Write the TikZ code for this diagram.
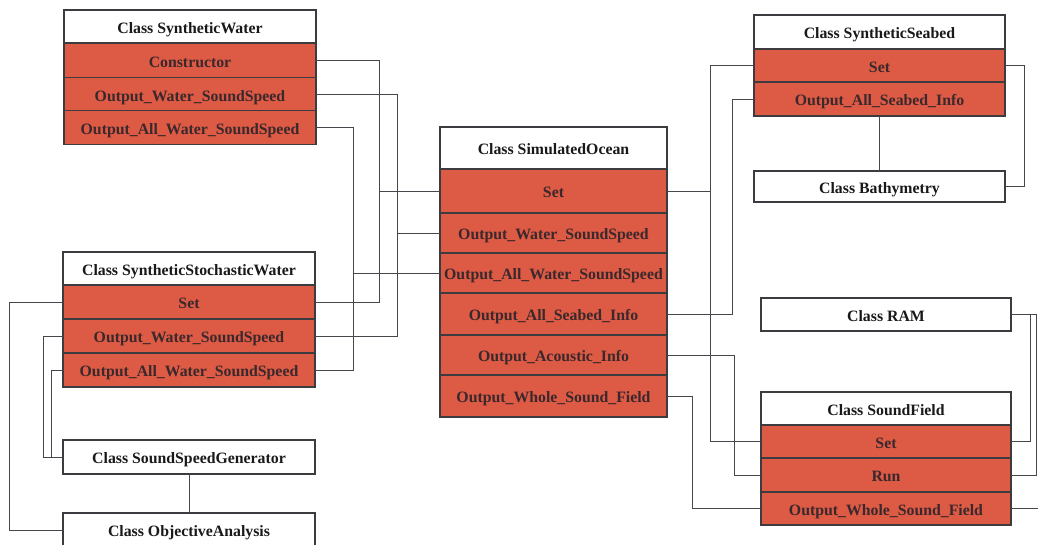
\documentclass[tikz,border=0pt]{standalone}
\usepackage{fontspec}
\setmainfont{Liberation Serif}
\begin{document}
\definecolor{rowred}{RGB}{221,90,68}
\definecolor{edgegray}{RGB}{60,60,64}
\definecolor{wiregray}{RGB}{70,70,76}
\definecolor{rowtext}{RGB}{58,40,44}
\begin{tikzpicture}[x=1pt,y=-1pt,
  classbox/.style={draw=edgegray,line width=1.1pt,fill=white,inner sep=0pt,outer sep=0pt,
    minimum height=#1,font=\bfseries\fontsize{15.8}{18}\selectfont,text=black!90,
    text height=13.5pt,text depth=0pt},
  classbox/.default=33pt,
  methodbox/.style={draw=edgegray,line width=1.1pt,fill=rowred,inner sep=0pt,outer sep=0pt,
    minimum height=#1,font=\bfseries\fontsize{15.8}{18}\selectfont,text=rowtext,
    text height=13.5pt,text depth=0pt},
  methodbox/.default=34pt,
  wire/.style={draw=wiregray,line width=0.9pt}]
\useasboundingbox (0,0) rectangle (1038,545);
\begin{scope}
\clip (0,0) rectangle (1038,545);

% ---- class SyntheticWater ----
\begin{scope}[every node/.append style={minimum width=252pt}]
\node[classbox] (sw) at (190,26.5) {Class SyntheticWater};
\node[methodbox] (swC) at (190,60.5) {Constructor};
\node[methodbox] (swOWS) at (190,94.5) {Output\_Water\_SoundSpeed};
\node[methodbox] (swOAWS) at (190,127.5) {Output\_All\_Water\_SoundSpeed};

% ---- class SyntheticStochasticWater ----
\node[classbox] (ssw) at (189,268.5) {Class SyntheticStochasticWater};
\node[methodbox] (sswSet) at (189,302) {Set};
\node[methodbox] (sswOWS) at (189,336) {Output\_Water\_SoundSpeed};
\node[methodbox] (sswOAWS) at (189,370) {Output\_All\_Water\_SoundSpeed};

% ---- helper classes ----
\node[classbox=34pt] (ssg) at (189,457) {Class SoundSpeedGenerator};
\node[classbox=34pt] (oa) at (189,530) {Class ObjectiveAnalysis};
\end{scope}

% ---- class SimulatedOcean ----
\begin{scope}[every node/.append style={minimum width=227pt}]
\node[classbox=42pt] (oc) at (553.5,148) {Class SimulatedOcean};
\node[methodbox=44pt] (ocSet) at (553.5,191) {Set};
\node[methodbox=40pt] (ocOWS) at (553.5,233) {Output\_Water\_SoundSpeed};
\node[methodbox=40pt] (ocOAWS) at (553.5,273) {Output\_All\_Water\_SoundSpeed};
\node[methodbox=42pt] (ocOASI) at (553.5,314) {Output\_All\_Seabed\_Info};
\node[methodbox=40pt] (ocOAI) at (553.5,355) {Output\_Acoustic\_Info};
\node[methodbox=42pt] (ocOWSF) at (553.5,396) {Output\_Whole\_Sound\_Field};
\end{scope}

% ---- class SyntheticSeabed and Bathymetry ----
\begin{scope}[every node/.append style={minimum width=251pt}]
\node[classbox=34pt] (sb) at (879.5,32) {Class SyntheticSeabed};
\node[methodbox=33pt] (sbSet) at (879.5,65.5) {Set};
\node[methodbox=34pt] (sbOASI) at (879.5,99) {Output\_All\_Seabed\_Info};
\node[classbox=31pt] (bat) at (879.5,186.5) {Class Bathymetry};
\end{scope}

% ---- class RAM and SoundField ----
\begin{scope}[every node/.append style={minimum width=250pt}]
\node[classbox=33pt] (ram) at (886,314.5) {Class RAM};
\node[classbox=33pt] (sf) at (886,408.5) {Class SoundField};
\node[methodbox=33pt] (sfSet) at (886,441.5) {Set};
\node[methodbox=34pt] (sfRun) at (886,475) {Run};
\node[methodbox=33pt] (sfOWSF) at (886,508.5) {Output\_Whole\_Sound\_Field};
\end{scope}

% ---- routing columns ----
\coordinate (colSet) at (379,0);
\coordinate (colOWS) at (397,0);
\coordinate (colOAWS) at (353,0);
\coordinate (colObj) at (9,0);
\coordinate (colGenA) at (43,0);
\coordinate (colGenB) at (51,0);
\coordinate (colOceanSet) at (710,0);
\coordinate (colSeabed) at (732,0);
\coordinate (colAcoustic) at (734,0);
\coordinate (colField) at (692,0);
\coordinate (colBathy) at (1024,0);
\coordinate (colRamA) at (1030,0);
\coordinate (colRamB) at (1036.5,0);
\coordinate (rightEdge) at (1039,0);

% water classes to the ocean
\path[wire] (swC.east) -- (swC.east -| colSet) -- (sswSet.east -| colSet) -- (sswSet.east);
\path[wire] (ocSet.west -| colSet) -- (ocSet.west);
\path[wire] (swOWS.east) -- (swOWS.east -| colOWS) -- (sswOWS.east -| colOWS) -- (sswOWS.east);
\path[wire] (ocOWS.west -| colOWS) -- (ocOWS.west);
\path[wire] (swOAWS.east) -- (swOAWS.east -| colOAWS) -- (sswOAWS.east -| colOAWS) -- (sswOAWS.east);
\path[wire] (ocOAWS.west -| colOAWS) -- (ocOAWS.west);

% stochastic water helpers
\path[wire] (sswSet.west) -- (sswSet.west -| colObj) -- (oa.west -| colObj) -- (oa.west);
\path[wire] (sswOWS.west) -- (sswOWS.west -| colGenA) -- (ssg.west -| colGenA) -- (ssg.west);
\path[wire] (sswOAWS.west) -- (sswOAWS.west -| colGenB) -- (ssg.west -| colGenB);
\path[wire] (ssg.south) -- (oa.north);

% ocean to seabed and sound field
\path[wire] (ocSet.east) -- (ocSet.east -| colOceanSet);
\path[wire] (sbSet.west) -- (sbSet.west -| colOceanSet) -- (sfSet.west -| colOceanSet) -- (sfSet.west);
\path[wire] (ocOASI.east) -- (ocOASI.east -| colSeabed) -- (sbOASI.west -| colSeabed) -- (sbOASI.west);
\path[wire] (ocOAI.east) -- (ocOAI.east -| colAcoustic) -- (sfRun.west -| colAcoustic) -- (sfRun.west);
\path[wire] (ocOWSF.east) -- (ocOWSF.east -| colField) -- (sfOWSF.west -| colField) -- (sfOWSF.west);

% seabed to bathymetry
\path[wire] (sbOASI.south) -- (bat.north);
\path[wire] (sbSet.east) -- (sbSet.east -| colBathy) -- (bat.east -| colBathy) -- (bat.east);

% RAM to sound field
\path[wire] (ram.east) -- (ram.east -| colRamB) -- (sfRun.east -| colRamB) -- (sfRun.east);
\path[wire] (ram.east -| colRamA) -- (sfSet.east -| colRamA) -- (sfSet.east);
\path[wire] (sfOWSF.east) -- (sfOWSF.east -| rightEdge);
\end{scope}
\end{tikzpicture}
\end{document}
